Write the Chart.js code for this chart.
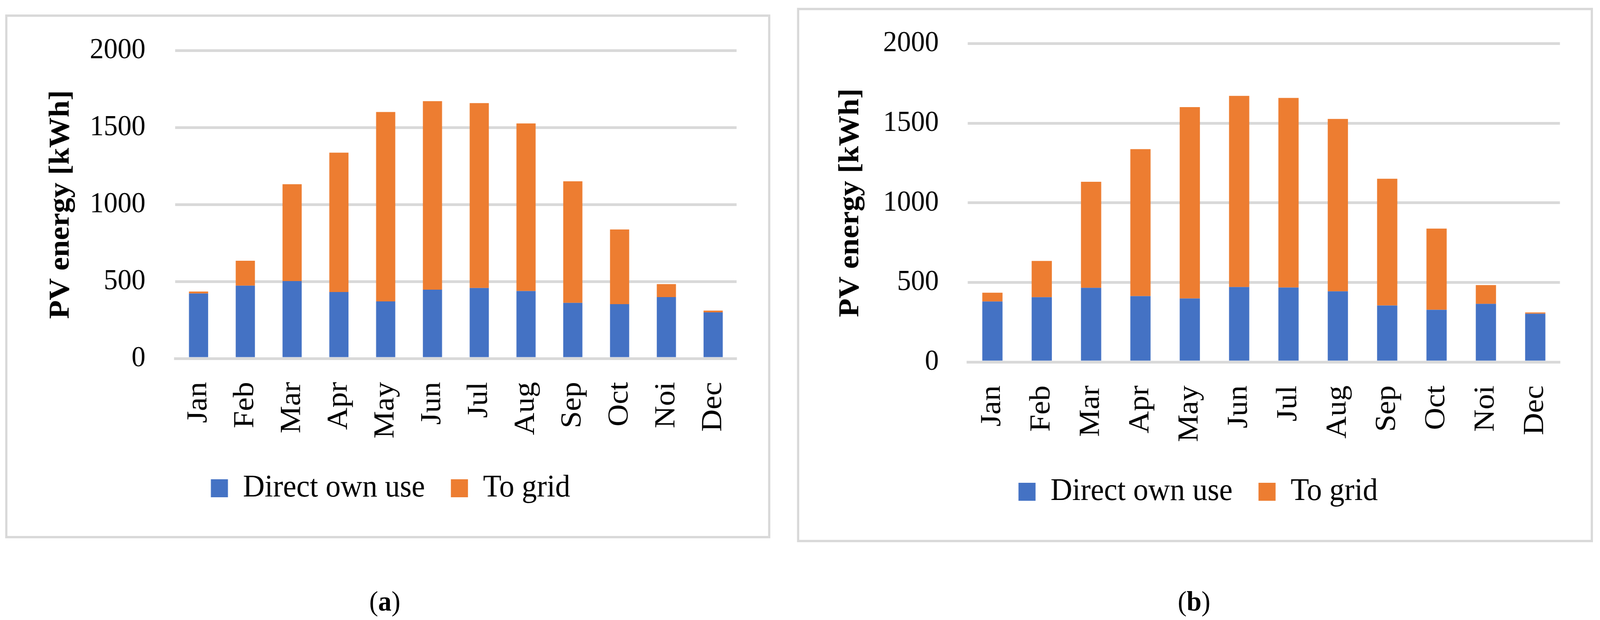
<!DOCTYPE html>
<html>
<head>
<meta charset="utf-8">
<script src="https://cdn.jsdelivr.net/npm/chart.js@4.4.1/dist/chart.umd.min.js"></script>
<style>
  html, body { margin: 0; background: #fff; overflow: hidden; }
  #page { position: relative; width: 4312px; height: 1586px; background: #fff; overflow: hidden; transform-origin: 0 0; }
  .panel { position: absolute; border: 6px solid #d9d9d9; box-sizing: border-box; background: #fff; }
  .panel canvas { display: block; }
  .caption { position: absolute; font-family: "Liberation Serif", serif; font-size: 72px; color: #000; transform: translate(-50%, -50%); }
</style>
</head>
<body>
<div id="page">
  <div class="panel" style="left:14px; top:37px; width:2062px; height:1340px;">
    <canvas id="chartA" width="2050" height="1328" style="width:2050px;height:1328px"></canvas>
  </div>
  <div class="panel" style="left:2148px; top:20px; width:2145px; height:1367px;">
    <canvas id="chartB" width="2133" height="1355" style="width:2133px;height:1355px"></canvas>
  </div>
  <div class="caption" style="left:1037px; top:1538px;">(<b>a</b>)</div>
  <div class="caption" style="left:3218px; top:1538px;">(<b>b</b>)</div>
</div>
<script>
// -- Data --
const months = ["Jan", "Feb", "Mar", "Apr", "May", "Jun", "Jul", "Aug", "Sep", "Oct", "Noi", "Dec"]
const yTicks = [0, 500, 1000, 1500, 2000]

// (a)
const ownUseA = [422, 473, 503, 432, 371, 447, 458, 438, 361, 353, 399, 300]
const toGridA = [13, 162, 629, 905, 1230, 1225, 1201, 1089, 790, 485, 84, 11]

// (b)
const ownUseB = [380, 407, 466, 414, 399, 471, 468, 444, 355, 328, 365, 303]
const toGridB = [55, 228, 666, 923, 1202, 1201, 1191, 1083, 796, 510, 118, 8]

const blue = "#4472C4"
const orange = "#ED7D31"
const gridGrey = "#d9d9d9"
const serif = "'Liberation Serif', 'Times New Roman', serif"

// the window may be narrower than the figure, so squeeze the whole page into it
let fitPage = function() {
  let sx = window.innerWidth / 4312
  let sy = window.innerHeight / 1586
  document.getElementById("page").style.transform = `scale(${sx}, ${sy})`
}
fitPage()

// -- Functions --
let makeChart = function(id, ownUse, toGrid, lay) {
  let ctx = document.getElementById(id)
  return new Chart(ctx, {
    type: 'bar',
    data: {
      labels: months,
      datasets: [{
        label: 'Direct own use',
        backgroundColor: blue,
        borderWidth: 0,
        data: ownUse
      },
      {
        label: 'To grid',
        backgroundColor: orange,
        borderWidth: 0,
        data: toGrid
      }]
    },
    options: {
      responsive: false,
      animation: false,
      devicePixelRatio: 1,
      barPercentage: 0.41,
      categoryPercentage: 1,
      layout: {
        padding: lay.padding
      },
      plugins: {
        tooltip: { enabled: false },
        legend: {
          position: 'bottom',
          labels: {
            color: '#000',
            boxWidth: 46,
            boxHeight: 46,
            padding: 70,
            font: { family: serif, size: 81 }
          }
        }
      },
      scales: {
        x: {
          stacked: true,
          z: 1,
          grid: { display: false },
          border: { display: true, color: gridGrey, width: 7 },
          ticks: {
            color: '#000',
            autoSkip: false,
            minRotation: 90,
            maxRotation: 90,
            padding: 52,
            font: { family: serif, size: 79 }
          },
          afterFit: function(scale) {
            scale.height = lay.xHeight
            scale.paddingLeft = 0
            scale.paddingRight = 0
          }
        },
        y: {
          stacked: true,
          min: 0,
          max: 2000,
          afterBuildTicks: function(scale) {
            scale.ticks = yTicks.map(v => ({ value: v }))
          },
          grid: { color: gridGrey, lineWidth: 7, drawTicks: false },
          border: { display: false },
          ticks: {
            color: '#000',
            padding: lay.yPad,
            font: { family: serif, size: 75 },
            callback: function(value) { return String(value) }
          },
          title: {
            display: true,
            text: 'PV energy [kWh]',
            color: '#000',
            padding: { top: lay.titlePad, bottom: 0 },
            font: { family: serif, size: 78, weight: 'bold', lineHeight: 1 }
          },
          afterFit: function(scale) {
            scale.width = lay.yWidth
            // big tick padding would otherwise push the plot top down
            scale.paddingTop = 0
            scale.paddingBottom = 0
          }
        }
      }
    }
  })
}

makeChart("chartA", ownUseA, toGridA, {
  padding: { left: 100, right: 85, top: 86.5, bottom: 71.5 },
  xHeight: 221.5,
  yWidth: 352,
  yPad: 80,
  titlePad: 6
})

makeChart("chartB", ownUseB, toGridB, {
  padding: { left: 100, right: 83, top: 85.6, bottom: 72.5 },
  xHeight: 221.5,
  yWidth: 354,
  yPad: 78,
  titlePad: 0
})
</script>
</body>
</html>
